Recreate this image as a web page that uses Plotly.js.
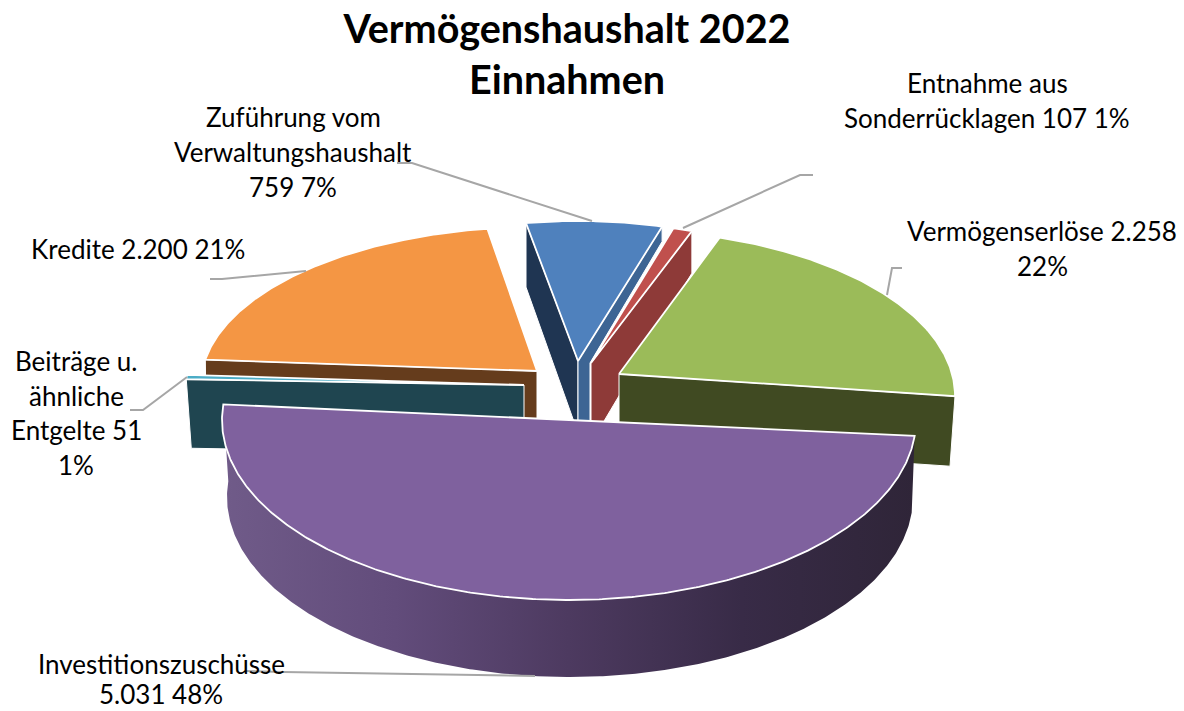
<!DOCTYPE html>
<html>
<head>
<meta charset="utf-8">
<script src="https://cdn.plot.ly/plotly-3.0.1.min.js"></script>
<style>html,body{margin:0;padding:0;background:#fff}#chart{width:1184px;height:711px}text{font-variant-ligatures:none}</style>
</head>
<body>
<div id="chart"></div>
<script>
// ---- Data ----
const titleLines = ["Vermögenshaushalt 2022", "Einnahmen"];
const categories = ["Entnahme aus Sonderrücklagen", "Vermögenserlöse", "Investitionszuschüsse",
                    "Beiträge u. ähnliche Entgelte", "Kredite", "Zuführung vom Verwaltungshaushalt"];
const values = [107, 2258, 5031, 51, 2200, 759];
const percents = [1, 22, 48, 1, 21, 7];

// ---- Projection of each exploded slice (screen pixels, degrees clockwise from top) ----
const W = 1184, H = 711;
const total = values.reduce((a, b) => a + b, 0);
const slices = [
  {apex:[591,363], c:[591,363], rx:300, ry:140, mid:17.8,  stretch:1,     top:"#c0504d"},
  {apex:[619,374], c:[619,396], rx:336, ry:166, mid:53.75, stretch:0.93,  top:"#9bbb59"},
  {apex:[569,420], c:[569,420], rx:347, ry:180, mid:185,   stretch:1.034, top:"#7f619e"},
  {apex:[524,385], c:[524,385], rx:338, ry:142, mid:273.2, stretch:1,     top:"#4bacc6"},
  {apex:[537,371], c:[537,385], rx:336, ry:158, mid:315.35,stretch:0.95,  top:"#f49644"},
  {apex:[578,361], c:[578,361], rx:300, ry:140, mid:3.15,  stretch:1,     top:"#4f81bd"}
];
slices.forEach((s, i) => {
  const sweep = values[i] / total * 360 * s.stretch;
  s.a0 = s.mid - sweep / 2;
  s.a1 = s.mid + sweep / 2;
});
const pt = (s, deg) => {
  const r = deg * Math.PI / 180;
  return [s.c[0] + s.rx * Math.sin(r), s.c[1] - s.ry * Math.cos(r)];
};
const arc = (s, a0, a1, dx = 0, dy = 0, drx = 0) => {
  const out = [], n = Math.max(2, Math.ceil(Math.abs(a1 - a0) * 2));
  for (let k = 0; k <= n; k++) {
    const d = a0 + (a1 - a0) * k / n, r = d * Math.PI / 180;
    out.push([s.c[0] + dx + (s.rx + drx) * Math.sin(r), s.c[1] + dy - s.ry * Math.cos(r)]);
  }
  return out;
};
const poly = (pts, color, lw, extra) => Object.assign({
  type: "scatter", mode: "lines", x: pts.map(p => p[0]), y: pts.map(p => p[1]),
  fill: "toself", fillcolor: color, line: {color: "#ffffff", width: lw},
  hoverinfo: "skip", showlegend: false
}, extra || {});
const face = s => poly([s.apex, ...arc(s, s.a0, s.a1), s.apex], s.top, 1.8);
const off = (p, dx, dy) => [p[0] + dx, p[1] + dy];
// radial wall: from the apex to the outer point at angle deg
const wall = (s, deg, color, outer, apexD) => {
  const o = pt(s, deg);
  return poly([s.apex, o, off(o, outer[0], outer[1]), off(s.apex, 0, apexD), s.apex], color, 1);
};
const [red, green, purple, teal, orange, blue] = slices;

const oB = pt(blue, blue.a1);
const traces = [
  wall(orange, orange.a0, "#653c1c", [1, 70], 70),
  face(orange),
  wall(teal, teal.a0, "#1f4550", [5, 69], 69),
  face(teal),
  wall(blue, blue.a0, "#1f3552", [0, 64], 72),
  poly([blue.apex, oB, off(oB, 0, 15), off(blue.apex, 12, 2), off(blue.apex, 12, 70), off(blue.apex, 0, 70), blue.apex], "#3d6594", 1),
  face(blue),
  wall(red, red.a1, "#8e3a38", [0, 42], 80),
  face(red),
  wall(green, green.a1, "#404a22", [-5, 70], 70),
  face(green),
  poly([...arc(purple, purple.a0, purple.a1).reverse(), ...arc(purple, purple.a0, purple.a1, 1, 77, -4)],
       "#4e3a62", 0, {fillgradient: {type: "horizontal", colorscale: [[0, "#705b89"], [0.25, "#624c7b"], [0.5, "#4d3a60"], [0.75, "#382b47"], [1, "#2f2538"]]}}),
  face(purple)
];

// ---- Leader lines ----
const leaders = [
  [[813,175],[800,175],[683,228]],
  [[902,268],[892,268],[887,295]],
  [[245,671],[283,672],[535,676]],
  [[130,410],[143,410],[187,377]],
  [[210,279],[222,279],[306,271]],
  [[397,163],[412,163],[592,221]]
];
leaders.forEach(l => traces.push({
  type: "scatter", mode: "lines", x: l.map(p => p[0]), y: l.map(p => p[1]),
  line: {color: "#a6a6a6", width: 2}, hoverinfo: "skip", showlegend: false
}));

// ---- Data labels, one annotation per line ----
const num = v => v.toLocaleString("de-DE");
const labelLines = [
  ["Entnahme aus", "Sonderrücklagen " + num(values[0]) + " " + percents[0] + "%"],
  ["Vermögenserlöse " + num(values[1]), percents[1] + "%"],
  ["Investitionszuschüsse", num(values[2]) + " " + percents[2] + "%"],
  ["Beiträge u.", "ähnliche", "Entgelte " + num(values[3]), percents[3] + "%"],
  ["Kredite " + num(values[4]) + " " + percents[4] + "%"],
  ["Zuführung vom", "Verwaltungshaushalt", num(values[5]) + " " + percents[5] + "%"]
];
const labelPos = [[987,83,35],[1042,231,35],[161,664,30],[76,361,34.5],[138,249,35],[293,117,35]];
const annotations = [];
labelLines.forEach((lines, i) => lines.forEach((t, j) => annotations.push({
  x: labelPos[i][0], y: labelPos[i][1] + j * labelPos[i][2], xref: "x", yref: "y",
  text: t, showarrow: false, xanchor: "center", yanchor: "middle",
  font: {family: "Lato, sans-serif", size: 26, color: "#000000"}
})));

Plotly.newPlot("chart", traces, {
  width: W, height: H, autosize: false,
  margin: {l: 0, r: 0, t: 0, b: 0},
  paper_bgcolor: "#ffffff", plot_bgcolor: "#ffffff",
  title: {text: "<b>" + titleLines.join("<br>") + "</b>", x: 567 / W, xanchor: "center",
          y: 1 - 43 / H, yanchor: "top",
          font: {family: "Lato, sans-serif", size: 39.5, color: "#000000"}},
  xaxis: {range: [0, W], visible: false, fixedrange: true},
  yaxis: {range: [H, 0], visible: false, fixedrange: true},
  annotations: annotations,
  showlegend: false
}, {displayModeBar: false, staticPlot: true});
</script>
</body>
</html>
